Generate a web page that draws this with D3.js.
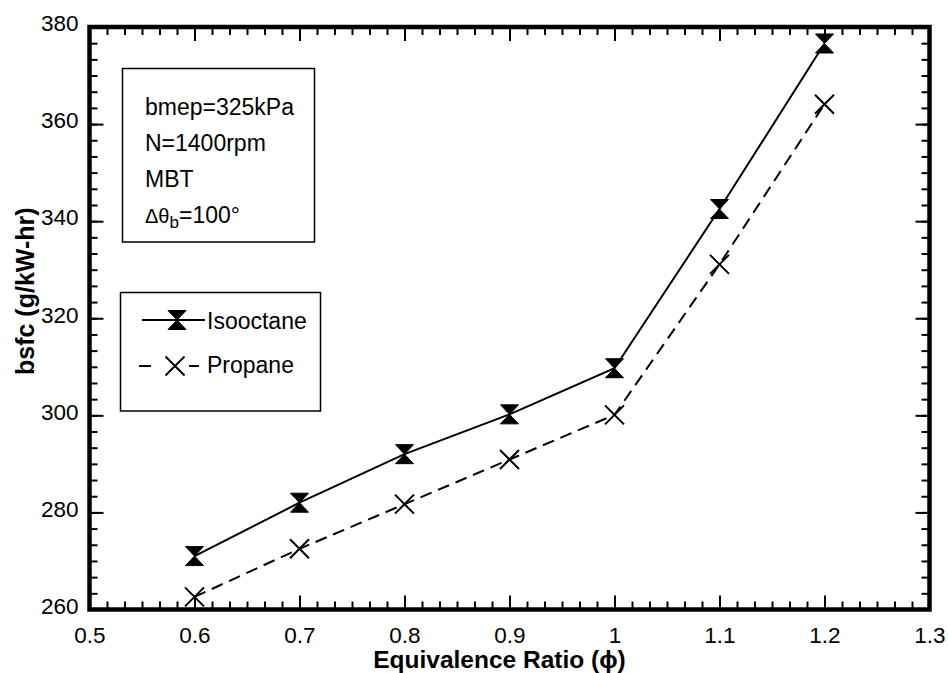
<!DOCTYPE html>
<html><head><meta charset="utf-8">
<script src="https://cdn.jsdelivr.net/npm/d3@7/dist/d3.min.js"></script>
<style>
body{margin:0;background:#fff}
svg text{font-family:"Liberation Sans",Arial,Helvetica,sans-serif;fill:#000}
</style>
</head><body>
<svg id="chart" width="948" height="673"></svg>
<script>
// ---- data ----
const phi = [0.6, 0.7, 0.8, 0.9, 1.0, 1.1, 1.2];
const isooctane = [271.0, 282.0, 292.0, 300.2, 309.7, 342.5, 376.6];
const propane = [262.6, 272.5, 281.7, 290.9, 300.1, 331.1, 364.1];
const seriesNames = ["Isooctane", "Propane"];
const xTicks = [0.5, 0.6, 0.7, 0.8, 0.9, 1.0, 1.1, 1.2, 1.3];
const xTickLabels = ["0.5", "0.6", "0.7", "0.8", "0.9", "1", "1.1", "1.2", "1.3"];
const yTicks = [260, 280, 300, 320, 340, 360, 380];
const yTickLabels = ["260", "280", "300", "320", "340", "360", "380"];
const xTitle = "Equivalence Ratio (\u03D5)";
const yTitle = "bsfc (g/kW-hr)";

// ---- layout ----
const svg = d3.select("#chart");
const L = 89.5, R = 929.5, T = 27, B = 609.5;
const x = d3.scaleLinear().domain([0.5, 1.3]).range([L, R]);
const y = d3.scaleLinear().domain([260, 380]).range([B, T]);

const xMinor = d3.range(0, 49).map(i => 0.5 + i * 0.1 / 6).filter(v => v <= 1.3 + 1e-9);
const yMinor = d3.range(0, 37).map(i => 260 + i * 20 / 6).filter(v => v <= 380 + 1e-9);

function styleAxis(g) {
  g.select(".domain").remove();
  g.selectAll(".tick line").attr("stroke", "#000").attr("stroke-width", 2);
  g.selectAll("text").attr("font-size", 22.5).attr("font-family", "'Liberation Sans',Arial,sans-serif").attr("fill", "#000");
}

// minor ticks
svg.append("g").attr("transform", `translate(0,${B})`)
  .call(d3.axisBottom(x).tickValues(xMinor).tickSize(-8).tickFormat(""))
  .call(styleAxis);
svg.append("g").attr("transform", `translate(0,${T})`)
  .call(d3.axisTop(x).tickValues(xMinor).tickSize(-8).tickFormat(""))
  .call(styleAxis);
svg.append("g").attr("transform", `translate(${L},0)`)
  .call(d3.axisLeft(y).tickValues(yMinor).tickSize(-8).tickFormat(""))
  .call(styleAxis);
svg.append("g").attr("transform", `translate(${R},0)`)
  .call(d3.axisRight(y).tickValues(yMinor).tickSize(-8).tickFormat(""))
  .call(styleAxis);

// major ticks
svg.append("g").attr("transform", `translate(0,${B})`)
  .call(d3.axisBottom(x).tickValues(xTicks).tickSize(-14).tickPadding(17.5)
    .tickFormat((d, i) => xTickLabels[i]))
  .call(styleAxis);
svg.append("g").attr("transform", `translate(0,${T})`)
  .call(d3.axisTop(x).tickValues(xTicks).tickSize(-14).tickFormat(""))
  .call(styleAxis);
const gl = svg.append("g").attr("transform", `translate(${L},0)`)
  .call(d3.axisLeft(y).tickValues(yTicks).tickSize(-14).tickPadding(11)
    .tickFormat((d, i) => yTickLabels[i]))
  .call(styleAxis);
gl.selectAll("text").attr("dy", "0.17em");
svg.append("g").attr("transform", `translate(${R},0)`)
  .call(d3.axisRight(y).tickValues(yTicks).tickSize(-14).tickFormat(""))
  .call(styleAxis);

// frame
svg.append("rect").attr("x", L).attr("y", T).attr("width", R - L).attr("height", B - T)
  .attr("fill", "none").attr("stroke", "#000").attr("stroke-width", 4.5);

// titles
svg.append("text").attr("x", (L + R) / 2 - 10).attr("y", 668).attr("text-anchor", "middle")
  .attr("font-size", 24.5).attr("font-weight", "bold").text(xTitle);
svg.append("text").attr("transform", `translate(34,${(T + B) / 2 - 27}) rotate(-90)`)
  .attr("text-anchor", "middle").attr("font-size", 25).attr("font-weight", "bold").text(yTitle);

// markers
const hourglass = (w, h) => `M${-w / 2},${-h / 2}L${w / 2},${-h / 2}L0,0L${w / 2},${h / 2}L${-w / 2},${h / 2}L0,0Z`;
const cross = s => `M${-s},${-s}L${s},${s}M${-s},${s}L${s},${-s}`;

const line = d3.line().x(d => x(d[0])).y(d => y(d[1]));
const isoData = phi.map((p, i) => [p, isooctane[i]]);
const proData = phi.map((p, i) => [p, propane[i]]);

svg.append("path").attr("d", line(isoData)).attr("fill", "none").attr("stroke", "#000").attr("stroke-width", 2);
svg.append("path").attr("d", line(proData)).attr("fill", "none").attr("stroke", "#000").attr("stroke-width", 2)
  .attr("stroke-dasharray", "12,7");

svg.selectAll(".iso").data(isoData).join("path").attr("class", "iso")
  .attr("transform", d => `translate(${x(d[0])},${y(d[1])})`)
  .attr("d", hourglass(18, 19)).attr("fill", "#000").attr("stroke", "#000").attr("stroke-width", 1);
svg.selectAll(".pro").data(proData).join("path").attr("class", "pro")
  .attr("transform", d => `translate(${x(d[0])},${y(d[1])})`)
  .attr("d", cross(9.5)).attr("fill", "none").attr("stroke", "#000").attr("stroke-width", 2);

// info box
const info = svg.append("g");
info.append("rect").attr("x", 122.5).attr("y", 68.5).attr("width", 192).attr("height", 173.5)
  .attr("fill", "#fff").attr("stroke", "#000").attr("stroke-width", 1.5);
const infoLines = ["bmep=325kPa", "N=1400rpm", "MBT"];
infoLines.forEach((t, i) => {
  info.append("text").attr("x", 145).attr("y", 115 + i * 36).attr("font-size", 23).text(t);
});
const dt = info.append("text").attr("x", 145).attr("y", 223).attr("font-size", 23);
dt.append("tspan").attr("font-size", 20).text("\u0394\u03B8");
dt.append("tspan").attr("font-size", 17).attr("dy", 5).text("b");
dt.append("tspan").attr("dy", -5).text("=100\u00B0");

// legend box
const lg = svg.append("g");
lg.append("rect").attr("x", 120.5).attr("y", 292.5).attr("width", 200).attr("height", 118.5)
  .attr("fill", "#fff").attr("stroke", "#000").attr("stroke-width", 1.5);
lg.append("line").attr("x1", 142).attr("x2", 205).attr("y1", 320).attr("y2", 320)
  .attr("stroke", "#000").attr("stroke-width", 2);
lg.append("path").attr("transform", "translate(177,320)").attr("d", hourglass(18, 19))
  .attr("fill", "#000").attr("stroke", "#000").attr("stroke-width", 1);
lg.append("text").attr("x", 207).attr("y", 329).attr("font-size", 23).text(seriesNames[0]);
lg.append("line").attr("x1", 139).attr("x2", 151).attr("y1", 366).attr("y2", 366)
  .attr("stroke", "#000").attr("stroke-width", 2);
lg.append("line").attr("x1", 189).attr("x2", 199).attr("y1", 366).attr("y2", 366)
  .attr("stroke", "#000").attr("stroke-width", 2);
lg.append("path").attr("transform", "translate(175,366)").attr("d", cross(9.5))
  .attr("fill", "none").attr("stroke", "#000").attr("stroke-width", 2);
lg.append("text").attr("x", 207).attr("y", 373).attr("font-size", 23).text(seriesNames[1]);
</script>
</body></html>
